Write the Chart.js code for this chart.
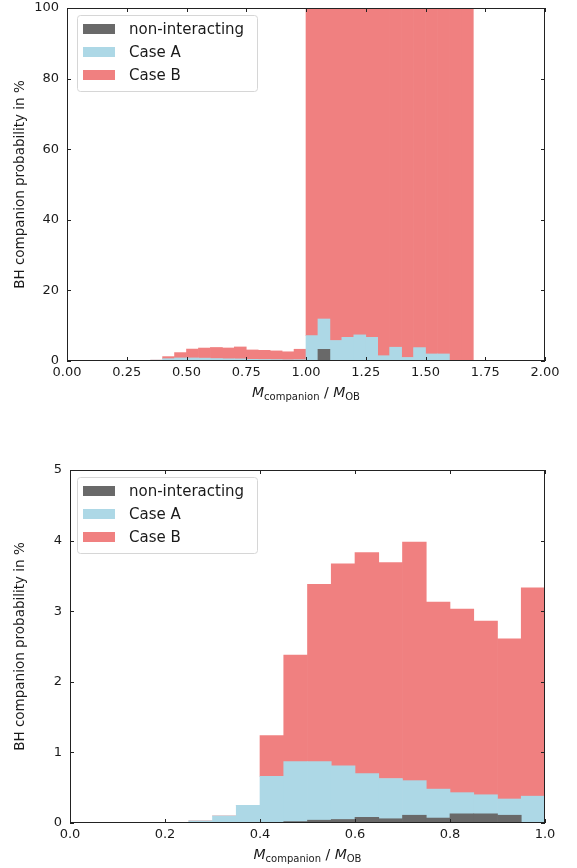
<!DOCTYPE html>
<html>
<head>
<meta charset="utf-8">
<script src="https://cdn.jsdelivr.net/npm/chart.js@4"></script>
<style>
  html, body { margin: 0; padding: 0; background: #fff; }
  #wrap { position: relative; width: 577px; height: 868px; }
  canvas { position: absolute; left: 0; }
</style>
</head>
<body>
<div id="wrap">
  <canvas id="full" width="577" height="434" style="top:0"></canvas>
  <canvas id="zoomed" width="577" height="434" style="top:434px"></canvas>
</div>
<script>
// Lower edges of the 0.05-wide mass-ratio bins
const binLow = [
  0.00, 0.05, 0.10, 0.15, 0.20, 0.25, 0.30, 0.35, 0.40, 0.45,
  0.50, 0.55, 0.60, 0.65, 0.70, 0.75, 0.80, 0.85, 0.90, 0.95,
  1.00, 1.05, 1.10, 1.15, 1.20, 1.25, 1.30, 1.35, 1.40, 1.45,
  1.50, 1.55, 1.60, 1.65, 1.70, 1.75, 1.80, 1.85, 1.90, 1.95
];
const binWidth = 0.05;

// BH companion probability (%) per bin, stacked in this order
const nonInteracting = [
  0, 0, 0, 0, 0, 0, 0, 0, 0, 0.02,
  0.04, 0.05, 0.08, 0.06, 0.11, 0.07, 0.13, 0.13, 0.11, 0,
  0, 3.3, 0, 0, 0, 0, 0, 0, 0, 0,
  0, 0, 0, 0, 0, 0, 0, 0, 0, 0
];
const caseA = [
  0, 0, 0, 0, 0, 0.03, 0.10, 0.25, 0.66, 0.85,
  0.83, 0.76, 0.62, 0.57, 0.49, 0.41, 0.30, 0.27, 0.23, 0.38,
  7.2, 8.6, 5.8, 6.7, 7.4, 6.7, 1.5, 3.9, 1.0, 3.8,
  2.0, 2.0, 0, 0, 0, 0, 0, 0, 0, 0
];
const caseB = [
  0, 0, 0, 0, 0, 0, 0, 0, 0.58, 1.51,
  2.51, 2.86, 3.13, 3.06, 3.38, 2.65, 2.60, 2.46, 2.27, 2.95,
  92.8, 88.1, 94.2, 93.3, 92.6, 93.3, 98.5, 96.1, 99.0, 96.2,
  98.0, 98.0, 100, 100, 0, 0, 0, 0, 0, 0
];

const seriesNames = ['non-interacting', 'Case A', 'Case B'];
const seriesColors = ['#696969', '#add8e6', '#f08080'];

// Tick settings for the two panels
const fullXTicks = { min: 0, max: 2, step: 0.25, digits: 2 };
const fullYTicks = { min: 0, max: 100, step: 20 };
const zoomXTicks = { min: 0, max: 1, step: 0.2, digits: 1 };
const zoomYTicks = { min: 0, max: 5, step: 1 };

const FONT = 'DejaVu Sans';
const TEXT = '#1a1a1a';

function toPoints(values, n) {
  return values.slice(0, n).map((v, i) => ({ x: binLow[i] + binWidth / 2, y: v }));
}

// Axes box with inward ticks on all four sides
const framePlugin = {
  id: 'frame',
  afterDraw(chart) {
    const { ctx, chartArea: a, scales: { x, y } } = chart;
    ctx.save();
    ctx.strokeStyle = '#222';
    ctx.lineWidth = 1;
    ctx.beginPath();
    x.ticks.forEach(t => {
      const px = Math.round(x.getPixelForValue(t.value)) + 0.5;
      ctx.moveTo(px, a.bottom); ctx.lineTo(px, a.bottom - 4);
      ctx.moveTo(px, a.top); ctx.lineTo(px, a.top + 4);
    });
    y.ticks.forEach(t => {
      const py = Math.round(y.getPixelForValue(t.value)) + 0.5;
      ctx.moveTo(a.left, py); ctx.lineTo(a.left + 4, py);
      ctx.moveTo(a.right, py); ctx.lineTo(a.right - 4, py);
    });
    ctx.stroke();
    ctx.strokeRect(Math.round(a.left) + 0.5, Math.round(a.top) + 0.5,
                   Math.round(a.width) - 1, Math.round(a.height) - 1);
    ctx.restore();
  }
};

// Axis titles: rotated y label and M_companion / M_OB with subscripts
const titlePlugin = {
  id: 'titles',
  afterDraw(chart) {
    const { ctx, chartArea: a } = chart;
    ctx.save();
    ctx.fillStyle = TEXT;
    ctx.textBaseline = 'alphabetic';
    // y title
    ctx.save();
    ctx.translate(24, (a.top + a.bottom) / 2);
    ctx.rotate(-Math.PI / 2);
    ctx.font = `13.5px "${FONT}"`;
    ctx.textAlign = 'center';
    ctx.fillText('BH companion probability in %', 0, 0);
    ctx.restore();
    // x title
    const parts = [
      { t: 'M', f: `italic 14px "${FONT}"`, dy: 0 },
      { t: 'companion', f: `10px "${FONT}"`, dy: 3 },
      { t: ' / ', f: `14px "${FONT}"`, dy: 0 },
      { t: 'M', f: `italic 14px "${FONT}"`, dy: 0 },
      { t: 'OB', f: `10px "${FONT}"`, dy: 3 }
    ];
    let total = 0;
    parts.forEach(p => { ctx.font = p.f; p.w = ctx.measureText(p.t).width; total += p.w; });
    let cx = (a.left + a.right) / 2 - total / 2;
    const base = a.bottom + 36;
    ctx.textAlign = 'left';
    parts.forEach(p => { ctx.font = p.f; ctx.fillText(p.t, cx, base + p.dy); cx += p.w; });
    ctx.restore();
  }
};

// Legend box in the upper-left corner of the axes
const legendPlugin = {
  id: 'boxLegend',
  afterDraw(chart) {
    const { ctx, chartArea: a } = chart;
    const bx = 77, by = a.top + 7, bw = 180, bh = 76;
    ctx.save();
    ctx.fillStyle = 'rgba(255,255,255,0.8)';
    ctx.strokeStyle = '#d6d6d6';
    ctx.lineWidth = 1;
    ctx.beginPath();
    ctx.roundRect(bx + 0.5, by + 0.5, bw, bh, 3);
    ctx.fill();
    ctx.stroke();
    ctx.font = `15px "${FONT}"`;
    ctx.textBaseline = 'middle';
    ctx.textAlign = 'left';
    seriesNames.forEach((name, i) => {
      const cy = by + 14 + i * 23;
      ctx.fillStyle = seriesColors[i];
      ctx.fillRect(83, cy - 5, 32, 10);
      ctx.fillStyle = TEXT;
      ctx.fillText(name, 129, cy + 1);
    });
    ctx.restore();
  }
};

function makeChart(id, n, xt, yt, area) {
  const canvas = document.getElementById(id);
  const H = canvas.height;
  const datasets = [nonInteracting, caseA, caseB].map((vals, i) => ({
    label: seriesNames[i],
    data: toPoints(vals, n),
    backgroundColor: seriesColors[i],
    borderWidth: 0,
    barPercentage: 1,
    categoryPercentage: 1
  }));
  return new Chart(canvas, {
    type: 'bar',
    data: { datasets },
    options: {
      responsive: false,
      animation: false,
      devicePixelRatio: 1,
      layout: { padding: { left: 0, right: 577 - area.right, top: area.top, bottom: 0 } },
      plugins: { legend: { display: false }, tooltip: { enabled: false } },
      scales: {
        x: {
          type: 'linear',
          stacked: true,
          offset: false,
          min: xt.min, max: xt.max,
          grid: { display: false, drawTicks: false },
          border: { display: false },
          ticks: {
            stepSize: xt.step,
            autoSkip: false,
            maxRotation: 0,
            padding: 4,
            color: TEXT,
            font: { family: FONT, size: 13 },
            callback: v => Number(v).toFixed(xt.digits)
          },
          afterFit: s => {
            s.height = H - area.bottom;
            s.paddingLeft = 0; s.paddingRight = 0;
          }
        },
        y: {
          type: 'linear',
          stacked: true,
          min: yt.min, max: yt.max,
          grid: { display: false, drawTicks: false },
          border: { display: false },
          ticks: {
            stepSize: yt.step,
            padding: 8,
            color: TEXT,
            font: { family: FONT, size: 13 }
          },
          afterFit: s => {
            s.width = area.left;
            s.paddingTop = 0; s.paddingBottom = 0;
          }
        }
      }
    },
    plugins: [framePlugin, titlePlugin, legendPlugin]
  });
}

makeChart('full', 40, fullXTicks, fullYTicks, { left: 67, right: 545, top: 8, bottom: 361 });
makeChart('zoomed', 20, zoomXTicks, zoomYTicks, { left: 70, right: 545, top: 36, bottom: 389 });
</script>
</body>
</html>
